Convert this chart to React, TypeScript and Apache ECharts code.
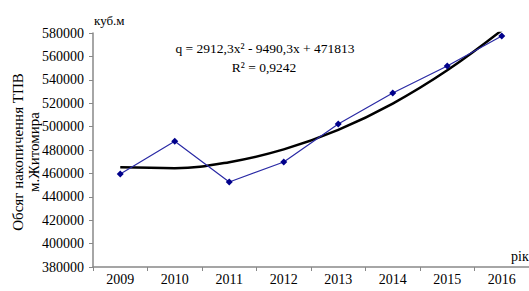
import React, { useEffect, useRef } from "react";
import * as echarts from "echarts";

const years = ["2009", "2010", "2011", "2012", "2013", "2014", "2015", "2016"];
const volumes = [459500, 487500, 452700, 469700, 502300, 528700, 551800, 577400];
const trend = [465200, 464500, 469600, 480500, 497200, 519700, 548100, 582300];
const yTicks = { min: 380000, max: 580000, step: 20000 };

const FONT = "Times New Roman";

export default function App() {
  const ref = useRef<HTMLDivElement>(null);
  useEffect(() => {
    if (!ref.current) return;
    const chart = echarts.init(ref.current, undefined, { renderer: "svg" });
    const txt = (size: number) => ({ fontFamily: FONT, fontSize: size, fill: "#000" });
    chart.setOption({
      animation: false,
      backgroundColor: "#fff",
      textStyle: { fontFamily: FONT },
      grid: { left: 93, top: 33, width: 440, height: 234, containLabel: false },
      xAxis: {
        type: "category",
        data: years,
        boundaryGap: true,
        axisLine: { lineStyle: { color: "#888", width: 1.5 } },
        axisTick: { show: true, length: 4, lineStyle: { color: "#888" } },
        axisLabel: { color: "#000", fontFamily: FONT, fontSize: 14, margin: 5 },
        splitLine: { show: false },
      },
      yAxis: {
        type: "value",
        min: yTicks.min,
        max: yTicks.max,
        interval: yTicks.step,
        axisLine: { show: true, lineStyle: { color: "#888", width: 1.5 } },
        axisTick: { show: true, length: 4, lineStyle: { color: "#888" } },
        axisLabel: {
          color: "#000",
          fontFamily: FONT,
          fontSize: 14,
          margin: 9,
          formatter: (v: number) => String(v),
        },
        splitLine: { show: false },
      },
      series: [
        {
          type: "line",
          data: trend,
          smooth: 0.4,
          symbol: "none",
          clip: true,
          lineStyle: { color: "#000", width: 2.5 },
          z: 2,
        },
        {
          type: "line",
          data: volumes,
          symbol: "diamond",
          symbolSize: 7,
          itemStyle: { color: "#00008b" },
          lineStyle: { color: "#2a2aa5", width: 1.2 },
          z: 3,
        },
      ],
      graphic: [
        {
          type: "text",
          x: 94,
          y: 14,
          style: { text: "куб.м", ...txt(13) },
        },
        {
          type: "text",
          x: 511,
          y: 249,
          style: { text: "рік", ...txt(14) },
        },
        {
          type: "text",
          x: 265,
          y: 48,
          style: {
            text: "q = 2912,3x² - 9490,3x + 471813",
            ...txt(13.5),
            align: "center",
            verticalAlign: "middle",
          },
        },
        {
          type: "text",
          x: 264,
          y: 67,
          style: {
            text: "R² = 0,9242",
            ...txt(13.5),
            align: "center",
            verticalAlign: "middle",
          },
        },
        {
          type: "text",
          x: 26,
          y: 152,
          rotation: Math.PI / 2,
          style: {
            text: "Обсяг накопичення ТПВ\nм.Житомира",
            ...txt(15),
            lineHeight: 16,
            align: "center",
            verticalAlign: "middle",
          },
        },
      ],
    });
    return () => chart.dispose();
  }, []);
  return (
    <div
      ref={ref}
      style={{ position: "fixed", left: 0, top: 0, width: 529, height: 291 }}
    />
  );
}
